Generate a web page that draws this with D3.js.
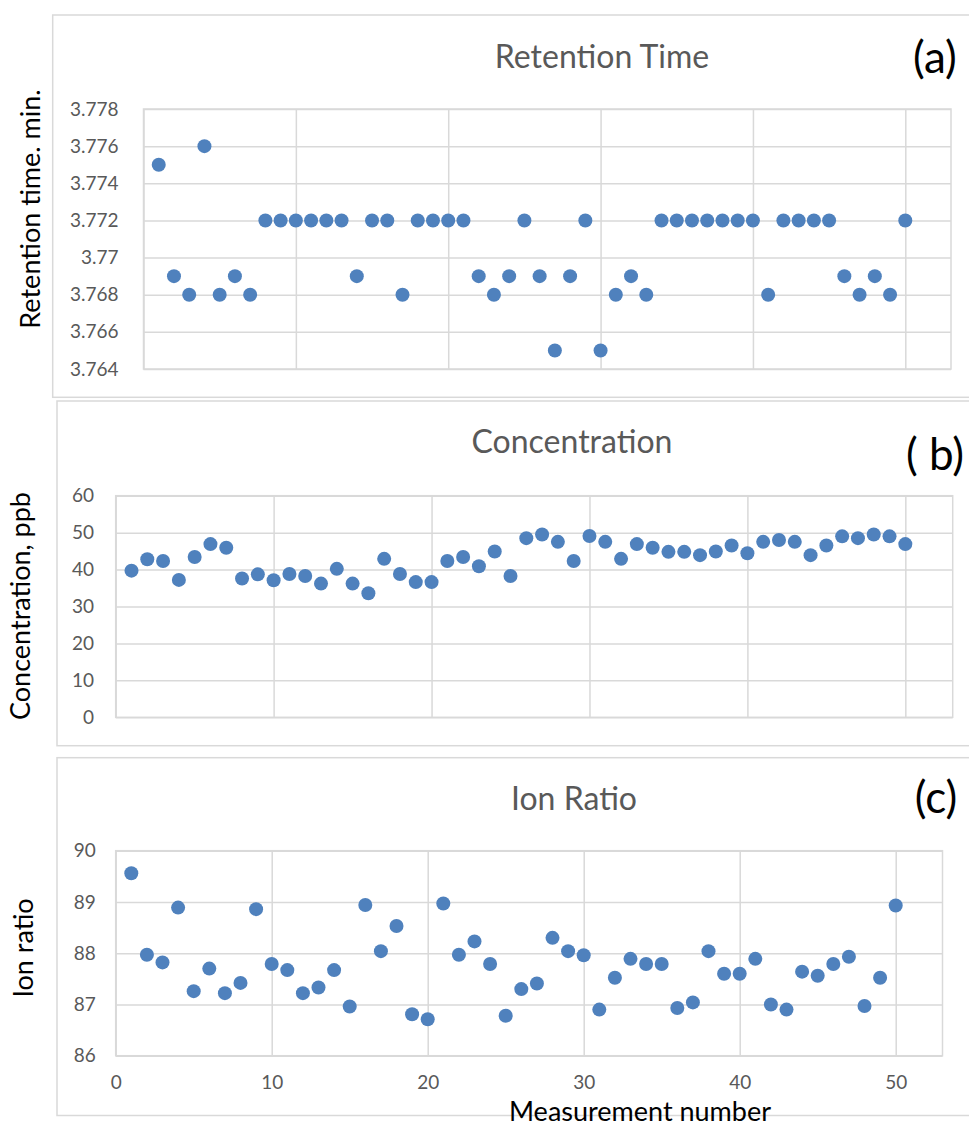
<!DOCTYPE html>
<meta charset="utf-8">
<title>Retention time, concentration and ion ratio</title>
<script src="https://d3js.org/d3.v7.min.js"></script>
<style>
  body { margin: 0; background: #fff; }
  svg text { font-family: Lato, "Open Sans", sans-serif; }
</style>
<body>
<svg id="chart" width="969" height="1127"></svg>
<script>

// measurement numbers (x for every panel)
var measurement = [1, 2, 3, 4, 5, 6, 7, 8, 9, 10,
  11, 12, 13, 14, 15, 16, 17, 18, 19, 20,
  21, 22, 23, 24, 25, 26, 27, 28, 29, 30,
  31, 32, 33, 34, 35, 36, 37, 38, 39, 40,
  41, 42, 43, 44, 45, 46, 47, 48, 49, 50];

// (a) retention time, min
var retentionTime = [3.775, 3.769, 3.768, 3.776, 3.768, 3.769, 3.768, 3.772, 3.772, 3.772,
  3.772, 3.772, 3.772, 3.769, 3.772, 3.772, 3.768, 3.772, 3.772, 3.772,
  3.772, 3.769, 3.768, 3.769, 3.772, 3.769, 3.765, 3.769, 3.772, 3.765,
  3.768, 3.769, 3.768, 3.772, 3.772, 3.772, 3.772, 3.772, 3.772, 3.772,
  3.768, 3.772, 3.772, 3.772, 3.772, 3.769, 3.768, 3.769, 3.768, 3.772];

// (b) concentration, ppb
var concentration = [39.7, 42.8, 42.3, 37.2, 43.4, 46.9, 45.9, 37.6, 38.7, 37.1,
  38.8, 38.25, 36.2, 40.2, 36.2, 33.6, 42.9, 38.8, 36.6, 36.6,
  42.3, 43.4, 40.9, 44.9, 38.25, 48.5, 49.5, 47.5, 42.3, 49.1,
  47.5, 42.9, 46.9, 45.9, 44.8, 44.8, 43.9, 44.9, 46.5, 44.4,
  47.5, 48.0, 47.5, 43.9, 46.5, 49.0, 48.5, 49.5, 49.0, 46.9];

// (c) ion ratio
var ionRatio = [89.56, 87.97, 87.82, 88.89, 87.26, 87.70, 87.22, 87.42, 88.86, 87.79,
  87.67, 87.22, 87.33, 87.67, 86.96, 88.94, 88.04, 88.53, 86.81, 86.71,
  88.97, 87.97, 88.23, 87.79, 86.78, 87.30, 87.41, 88.30, 88.04, 87.96,
  86.90, 87.52, 87.89, 87.79, 87.79, 86.93, 87.04, 88.04, 87.60, 87.60,
  87.89, 87.00, 86.90, 87.64, 87.56, 87.79, 87.93, 86.97, 87.52, 88.93];

var rtTicks = [3.764, 3.766, 3.768, 3.77, 3.772, 3.774, 3.776, 3.778];
var concTicks = [0, 10, 20, 30, 40, 50, 60];
var ionTicks = [86, 87, 88, 89, 90];
var xTicks = [0, 10, 20, 30, 40, 50];
var xMax = 53;

var dotColor = "#4f81bd", gridColor = "#d9d9d9", tickColor = "#595959";

var panels = [
  {values: retentionTime, ticks: rtTicks, title: "Retention Time", tag: "(a)",
   ylab: "Retention time. min.", box: [52.7, 15, 1000, 382.3],
   l: 143.5, t: 109, w: 807.5, h: 260, pad: 25,
   titleX: 602, titleY: 68, tagX: 935, tagY: 73, ylabX: 40, ylabY: 209, showX: false},
  {values: concentration, ticks: concTicks, title: "Concentration", tag: "( b)",
   ylab: "Concentration, ppb", box: [57, 401, 1000, 344.7],
   l: 115.7, t: 495.7, w: 837, h: 221.6, pad: 21.7,
   titleX: 572, titleY: 453, tagX: 935, tagY: 470, ylabX: 30, ylabY: 606, showX: false},
  {values: ionRatio, ticks: ionTicks, title: "Ion Ratio", tag: "(c)",
   ylab: "Ion ratio", box: [57, 757.7, 1000, 357.8],
   l: 115.7, t: 850.7, w: 826.8, h: 205, pad: 20,
   titleX: 574, titleY: 810, tagX: 936, tagY: 813, ylabX: 33, ylabY: 948, showX: true}
];

var svg = d3.select("#chart");

panels.forEach(function(p) {
  var g = svg.append("g");

  // chart area frame
  g.append("rect")
      .attr("x", p.box[0]).attr("y", p.box[1])
      .attr("width", p.box[2]).attr("height", p.box[3])
      .attr("fill", "#fff")
      .attr("stroke", gridColor)
      .attr("stroke-width", 1.5);

  var x = d3.scaleLinear().domain([0, xMax]).range([p.l, p.l + p.w]);
  var y = d3.scaleLinear().domain(d3.extent(p.ticks)).range([p.t + p.h, p.t]);

  // horizontal gridlines + y tick labels
  var yAxis = g.append("g")
      .attr("transform", "translate(" + p.l + ",0)")
      .call(d3.axisLeft(y)
          .tickValues(p.ticks)
          .tickSize(-p.h ? -p.w : 0)
          .tickPadding(p.pad)
          .tickFormat(function(d) { return String(+d.toFixed(3)); }));

  // vertical gridlines (+ x labels on the last panel)
  var xAxis = g.append("g")
      .attr("transform", "translate(0," + (p.t + p.h) + ")")
      .call(d3.axisBottom(x)
          .tickValues(xTicks)
          .tickSize(-p.h)
          .tickPadding(20)
          .tickFormat(p.showX ? d3.format("d") : ""));

  [yAxis, xAxis].forEach(function(a) {
    a.select(".domain").remove();
    a.selectAll(".tick line").attr("stroke", gridColor).attr("stroke-width", 1.5);
    a.selectAll(".tick text")
        .attr("fill", tickColor)
        .style("font-size", "19px");
  });

  // plot area border
  g.append("rect")
      .attr("x", p.l).attr("y", p.t)
      .attr("width", p.w).attr("height", p.h)
      .attr("fill", "none")
      .attr("stroke", gridColor)
      .attr("stroke-width", 1.5);

  g.append("g").selectAll("circle")
      .data(p.values)
      .join("circle")
      .attr("cx", function(d, i) { return x(measurement[i]); })
      .attr("cy", function(d) { return y(d); })
      .attr("r", 7)
      .attr("fill", dotColor);

  g.append("text")
      .attr("x", p.titleX).attr("y", p.titleY)
      .attr("text-anchor", "middle")
      .attr("fill", tickColor)
      .style("font-size", "32px")
      .text(p.title);

  g.append("text")
      .attr("x", p.tagX).attr("y", p.tagY)
      .attr("text-anchor", "middle")
      .attr("fill", "#000")
      .style("font-size", "44px")
      .text(p.tag);

  g.append("text")
      .attr("transform", "translate(" + p.ylabX + "," + p.ylabY + ") rotate(-90)")
      .attr("text-anchor", "middle")
      .attr("fill", "#000")
      .style("font-size", "27px")
      .text(p.ylab);
});

svg.append("text")
    .attr("x", 640).attr("y", 1121)
    .attr("text-anchor", "middle")
    .attr("fill", "#000")
    .style("font-size", "27px")
    .text("Measurement number");

</script>
</body>
